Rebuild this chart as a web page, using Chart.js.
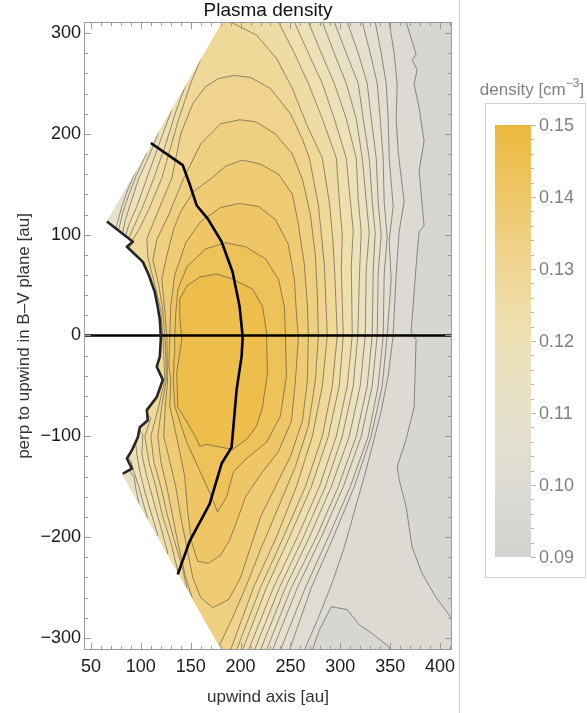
<!DOCTYPE html>
<html>
<head>
<meta charset="utf-8">
<script src="https://cdn.jsdelivr.net/npm/chart.js@4/dist/chart.umd.min.js"></script>
<style>
  html, body { margin: 0; padding: 0; background: #fff; }
</style>
</head>
<body>
<canvas id="c" width="587" height="713"></canvas>
<script>
// axis ranges and tick labels
const xRange = [43, 412];
const yRange = [-312, 311];
const xTicks = [50, 100, 150, 200, 250, 300, 350, 400];
const yTicks = [-300, -200, -100, 0, 100, 200, 300];
const densityTicks = [0.09, 0.10, 0.11, 0.12, 0.13, 0.14, 0.15];
const densityRange = [0.09, 0.15];

// edges of the simulated wedge [au]
const upperEdge = [[182, 311], [66, 113]];
const lowerEdge = [[81, -137], [181, -312]];
const shockLine = [[66,113],[92,93],[86,88],[102,73],[108,60],[114,43],[117,28],[119,16],[120,0],[120,-4],[119,-21],[116,-31],[122,-44],[116,-61],[106,-74],[107,-84],[99,-91],[97,-101],[91,-114],[86,-122],[91,-132],[82,-137]];
const heliopause = [[110,191],[142,169],[149,150],[156,129],[167,116],[181,93],[192,63],[199,29],[202,0],[202,-4],[201,-21],[196,-54],[191,-111],[181,-127],[169,-167],[149,-204],[137,-237]];
const axisLine = [[30, 0], [425, 0]];

// density contours (cm^-3), closed outlines in au; parts outside the wedge are cut away
const contour097 = [[366,330],[366,311],[376,279],[372,273],[377,264],[374,249],[379,226],[384,193],[379,163],[384,109],[379,103],[376,69],[371,3],[376,-4],[374,-71],[366,-103],[357,-130],[359,-143],[366,-170],[372,-210],[382,-236],[396,-260],[406,-273],[411,-280],[425,-288],[425,-330],[30,-330],[30,330]];
const lowPatch097 = [[266,-330],[272,-312],[279,-292],[291,-269],[307,-272],[319,-287],[331,-295],[349,-309],[353,-330]];
const contour100 = [[345,330],[349,311],[354,280],[357,249],[356,215],[358,182],[364,133],[359,103],[356,60],[353,0],[348,-40],[341,-75],[332,-110],[324,-140],[314,-175],[304,-210],[292,-245],[278,-280],[264,-312],[262,-330],[30,-330],[30,330]];
const contour103 = [[331,330],[335,311],[341,280],[346,250],[348,215],[349,176],[353,128],[349,95],[351,55],[347,0],[342,-50],[331,-100],[314,-150],[293,-200],[271,-250],[249,-312],[247,-330],[30,-330],[30,330]];
const contour106 = [[318,330],[322,311],[330,280],[337,250],[340,215],[343,176],[344,132],[347,98],[344,60],[343,0],[338,-50],[328,-100],[310,-150],[288,-200],[265,-250],[240,-312],[238,-330],[30,-330],[30,330]];
const contour109 = [[303,330],[307,311],[318,280],[327,250],[331,215],[336,176],[338,132],[341,100],[338,62],[337,0],[332,-50],[321,-100],[303,-150],[281,-200],[257,-250],[232,-312],[230,-330],[30,-330],[30,330]];
const contour112 = [[290,330],[294,311],[306,280],[318,250],[323,215],[329,176],[332,134],[335,101],[333,64],[332,0],[327,-50],[316,-100],[298,-150],[276,-200],[251,-250],[226,-312],[224,-330],[30,-330],[30,100],[74,103],[76,110],[81,128],[87,145],[95,163],[90,172],[90,330]];
const contour115 = [[278,330],[282,311],[294,280],[306,250],[316,215],[322,176],[326,134],[329,102],[326,66],[325,0],[320,-50],[309,-100],[291,-150],[269,-200],[245,-250],[220,-312],[218,-330],[150,-330],[88,-175],[98,-166],[95,-152],[93,-140],[86,-130],[30,-60],[30,95],[76,100],[78,106],[82,122],[88,140],[96,160],[106,181],[100,190],[100,330]];
const contour118 = [[264,330],[268,311],[281,280],[294,250],[306,215],[316,176],[318,134],[321,103],[319.5,68],[317.5,0],[313,-50],[302,-100],[285,-150],[263,-200],[239,-250],[214,-312],[212,-330],[150,-330],[95,-190],[107,-182],[102,-165],[98,-150],[93,-135],[90,-124],[84,-118],[30,-60],[30,95],[80,97],[82,102],[84,113],[90,132],[98,156],[109,180],[118,202],[113,212],[113,330]];
const contour121 = [[250,330],[254,311],[268,280],[282,250],[294,215],[306,176],[310,134],[313,104],[311,70],[312,0],[307,-50],[296,-100],[279,-150],[257,-200],[233,-250],[208,-312],[206,-330],[150,-330],[100,-205],[117,-198],[110,-175],[104,-155],[99,-135],[96,-118],[95,-108],[88,-105],[30,-60],[30,95],[82,96],[85,100],[88,110],[96,128],[106,156],[122,200],[131,224],[126,235],[126,330]];
const contour124 = [[234,330],[238,311],[254,280],[268,250],[282,215],[296,176],[299,134],[302,100],[301,66],[303,0],[299,-50],[288,-100],[271,-150],[249,-200],[226,-250],[202,-312],[200,-330],[150,-330],[110,-230],[127,-216],[120,-190],[113,-165],[106,-140],[101,-118],[102,-98],[95,-90],[30,-60],[30,90],[84,93],[88,97],[93,108],[102,128],[113,156],[125,190],[135,222],[145,249],[140,262],[140,330]];
const contour127 = [[185,330],[190,311],[216,298],[236,275],[252,245],[266,210],[282,176],[289,132],[292.5,96],[294.5,60],[297,0],[292,-50],[282,-100],[265,-150],[243,-200],[220,-250],[196,-312],[194,-330],[150,-330],[120,-250],[137,-233],[130,-205],[122,-180],[115,-150],[108,-125],[104,-100],[110,-82],[100,-72],[30,-50],[30,80],[88,85],[92,95],[98,105],[108,125],[121,156],[138,215],[150,250],[160,274],[155,290],[155,330]];
const contour130 = [[194,258],[210,256],[230,245],[250,220],[262,195],[269,176],[278,130],[284,70],[287,0],[282,-50],[272,-100],[256,-150],[236,-200],[213,-250],[190,-312],[188,-330],[135,-280],[146,-250],[142,-232],[134,-205],[127,-180],[120,-150],[113,-125],[110,-100],[118,-70],[124,-44],[123,-20],[122,0],[120,25],[114,50],[107,78],[106,96],[118,125],[131,156],[140,200],[152,230],[165,247],[178,255],[194,258]];
const contour133 = [[199,214],[215,212],[235,200],[252,180],[262,155],[270,120],[275,80],[277,40],[278,0],[275,-45],[268,-90],[255,-130],[238,-170],[221,-210],[205,-250],[192,-280],[180,-305],[172,-325],[158,-300],[152,-262],[145,-240],[138,-210],[132,-180],[126,-150],[120,-125],[117,-100],[121,-70],[125.5,-44],[125,-20],[124,0],[122,25],[118,50],[112,75],[116,95],[128,120],[143,156],[160,190],[180,210],[199,214]];
const contour136 = [[202,174],[220,170],[238,160],[252,140],[258,110],[264,70],[267,30],[268,0],[267,-45],[262,-85],[250,-120],[235,-150],[220,-180],[210,-210],[200,-240],[188,-262],[172,-270],[160,-260],[152,-240],[146,-210],[140,-180],[135,-150],[129,-125],[123,-100],[124.5,-70],[127,-44],[126.5,-25],[126,0],[124,25],[121,56],[126,79],[133,106],[140,123],[153,143],[171,156],[185,168],[202,174]];
const contour139 = [[130,30],[134,60],[145,92],[160,113],[180,127],[199,131],[218,128],[235,115],[248,90],[254,55],[256,22],[258,-2],[255,-45],[251,-85],[238,-115],[220,-138],[205,-160],[196,-185],[189,-203],[180,-218],[168,-226],[157,-224],[151,-205],[147,-175],[144,-140],[137,-106],[129,-70],[130,-44],[128,-30],[129,0],[130,30]];
const contour142 = [[137,45],[146,68],[165,86],[185,92],[205,88],[225,76],[238,56],[244,28],[245,0],[246,-40],[240,-80],[226,-106],[206,-122],[193,-135],[186,-160],[177,-175],[170,-158],[158,-132],[146,-106],[134,-70],[132.5,-44],[133.5,-20],[134,0],[135,22],[137,45]];
const contour145 = [[139,36],[146,49],[159,58],[176,61],[192,56],[212,46],[222,29],[226,3],[227,-37],[222,-71],[216,-90],[206,-103],[192,-113],[176,-110],[166,-108],[159,-110],[156,-103],[147,-87],[137,-71],[136,-37],[141,-4],[139,20],[139,36]];

const contourLevels = [0.097, 0.100, 0.103, 0.106, 0.109, 0.112, 0.115, 0.118, 0.121, 0.124, 0.127, 0.130, 0.133, 0.136, 0.139, 0.142, 0.145];
const contourPaths = [contour097, contour100, contour103, contour106, contour109, contour112, contour115, contour118, contour121, contour124, contour127, contour130, contour133, contour136, contour139, contour142, contour145];

// colour scale (light grey -> gold)
const cmapStops = [
  [0.090, [211, 210, 208]],
  [0.100, [221, 219, 212]],
  [0.110, [231, 225, 203]],
  [0.120, [238, 225, 183]],
  [0.130, [240, 214, 148]],
  [0.140, [238, 199, 104]],
  [0.150, [236, 185, 60]]
];
function densityColor(v) {
  if (v <= cmapStops[0][0]) return 'rgb(' + cmapStops[0][1].join(',') + ')';
  for (let i = 1; i < cmapStops.length; i++) {
    if (v <= cmapStops[i][0]) {
      const [a, ca] = cmapStops[i - 1], [b, cb] = cmapStops[i];
      const t = (v - a) / (b - a);
      return 'rgb(' + ca.map((c, k) => Math.round(c + (cb[k] - c) * t)).join(',') + ')';
    }
  }
  return 'rgb(' + cmapStops[cmapStops.length - 1][1].join(',') + ')';
}

const toXY = pts => pts.map(p => ({x: p[0], y: p[1]}));
const domainOutline = [upperEdge[0], [xRange[1], yRange[1]], [xRange[1], yRange[0]], lowerEdge[1], lowerEdge[0], ...shockLine.slice().reverse(), upperEdge[1]];

const lineGrey = 'rgba(55,55,55,0.75)';
const drawList = [{pts: domainOutline, fill: densityColor(0.0945), width: 0}];
contourPaths.forEach((path, i) => {
  drawList.push({pts: path, fill: densityColor(contourLevels[i] + 0.0015), width: 0.7});
  if (i === 0) drawList.push({pts: lowPatch097, fill: densityColor(0.0945), width: 0.7});
});

const datasets = [
  {data: toXY(heliopause), borderColor: '#000', borderWidth: 2.6},
  {data: toXY(shockLine), borderColor: '#262626', borderWidth: 2.6},
  {data: toXY(axisLine), borderColor: '#000', borderWidth: 2.6}
].map(d => Object.assign(d, {showLine: true, fill: false, pointRadius: 0, borderJoinStyle: 'round'}));
const firstContour = datasets.length;
drawList.slice().reverse().forEach(d => {
  datasets.push({
    data: toXY(d.pts), showLine: true, fill: 'shape',
    backgroundColor: d.fill, borderColor: lineGrey, borderWidth: d.width,
    pointRadius: 0, borderJoinStyle: 'round'
  });
});

function tracePolygon(chart, pts) {
  const {ctx} = chart, xs = chart.scales.x, ys = chart.scales.y;
  ctx.beginPath();
  pts.forEach((p, i) => {
    const a = xs.getPixelForValue(p[0]), b = ys.getPixelForValue(p[1]);
    if (i) ctx.lineTo(a, b); else ctx.moveTo(a, b);
  });
  ctx.closePath();
}

const wedgeClip = {
  id: 'wedgeClip',
  beforeDatasetsDraw(chart) {
    chart.ctx.save();
    tracePolygon(chart, domainOutline);
    chart.ctx.clip();
  },
  afterDatasetDraw(chart, args) {
    if (args.index === firstContour) chart.ctx.restore();
  }
};

const FONT = "'Liberation Sans', Arial, sans-serif";

const decorations = {
  id: 'decorations',
  afterDraw(chart) {
    const {ctx, chartArea: ca} = chart;
    const xs = chart.scales.x, ys = chart.scales.y;
    ctx.save();
    // frame with inward ticks
    ctx.strokeStyle = '#9a9a9a';
    ctx.lineWidth = 1;
    ctx.strokeRect(ca.left + 0.5, ca.top + 0.5, ca.width - 1, ca.height - 1);
    ctx.beginPath();
    for (let v = 50; v <= 410; v += 10) {
      const p = Math.round(xs.getPixelForValue(v)) + 0.5;
      const len = v % 50 === 0 ? 7 : 4;
      ctx.moveTo(p, ca.bottom); ctx.lineTo(p, ca.bottom - len);
      ctx.moveTo(p, ca.top); ctx.lineTo(p, ca.top + len);
    }
    for (let v = -300; v <= 300; v += 20) {
      const p = Math.round(ys.getPixelForValue(v)) + 0.5;
      const len = v % 100 === 0 ? 7 : 4;
      ctx.moveTo(ca.left, p); ctx.lineTo(ca.left + len, p);
      ctx.moveTo(ca.right, p); ctx.lineTo(ca.right - len, p);
    }
    ctx.stroke();

    // title
    ctx.fillStyle = '#111';
    ctx.font = '19px ' + FONT;
    ctx.textAlign = 'center';
    ctx.textBaseline = 'middle';
    ctx.fillText('Plasma density', (ca.left + ca.right) / 2, 11);

    // separator
    ctx.strokeStyle = '#cfcfcf';
    ctx.beginPath(); ctx.moveTo(459.5, 0); ctx.lineTo(459.5, 713); ctx.stroke();

    // colour bar legend
    const gx = 495, gw = 36, gTop = 125, gBot = 557;
    const valY = v => gBot - (v - densityRange[0]) / (densityRange[1] - densityRange[0]) * (gBot - gTop);
    ctx.strokeStyle = '#d2d2d2';
    ctx.strokeRect(485.5, 103.5, 100, 474);
    const grad = ctx.createLinearGradient(0, gBot, 0, gTop);
    cmapStops.forEach(([v, c]) => grad.addColorStop((v - densityRange[0]) / (densityRange[1] - densityRange[0]), 'rgb(' + c.join(',') + ')'));
    ctx.fillStyle = grad;
    ctx.fillRect(gx, gTop, gw, gBot - gTop);
    ctx.strokeStyle = '#b5b5b5';
    ctx.beginPath();
    for (let k = 0; k <= 30; k++) {
      const v = densityRange[0] + k * 0.002;
      const y = Math.round(valY(v)) + 0.5;
      ctx.moveTo(gx + gw, y); ctx.lineTo(gx + gw + (k % 5 === 0 ? 5 : 3), y);
    }
    ctx.stroke();
    ctx.fillStyle = '#808080';
    ctx.font = '18px ' + FONT;
    ctx.textAlign = 'left';
    densityTicks.forEach(v => ctx.fillText(v.toFixed(2), 539, valY(v) + 1));
    // legend title with superscript
    ctx.font = '17px ' + FONT;
    const t1 = 'density [cm', sup = '\u22123', t2 = ']';
    const w1 = ctx.measureText(t1).width;
    ctx.font = '12px ' + FONT;
    const ws = ctx.measureText(sup).width;
    ctx.font = '17px ' + FONT;
    const w2 = ctx.measureText(t2).width;
    let sx = 532 - (w1 + ws + w2) / 2;
    ctx.fillText(t1, sx, 90);
    ctx.font = '12px ' + FONT;
    ctx.fillText(sup, sx + w1, 84);
    ctx.font = '17px ' + FONT;
    ctx.fillText(t2, sx + w1 + ws, 90);
    ctx.restore();
  }
};

const minus = v => v < 0 ? '\u2212' + Math.abs(v) : String(v);

new Chart(document.getElementById('c'), {
  type: 'scatter',
  data: {datasets},
  options: {
    responsive: false,
    animation: false,
    devicePixelRatio: 1,
    events: [],
    layout: {padding: {left: 0, top: 22, right: 135, bottom: 0}},
    plugins: {legend: {display: false}, tooltip: {enabled: false}, title: {display: false}},
    elements: {point: {radius: 0}, line: {tension: 0}},
    scales: {
      x: {
        type: 'linear', min: xRange[0], max: xRange[1],
        grid: {display: false, drawTicks: false}, border: {display: false},
        afterBuildTicks: s => { s.ticks = xTicks.map(v => ({value: v})); },
        afterFit: s => { s.height = 63; },
        ticks: {autoSkip: false, maxRotation: 0, padding: 6, color: '#1a1a1a', font: {size: 18, family: FONT}, callback: v => minus(v)},
        title: {display: true, text: 'upwind axis [au]', color: '#333', font: {size: 17, family: FONT}, padding: {top: 0, bottom: 5}}
      },
      y: {
        type: 'linear', min: yRange[0], max: yRange[1],
        grid: {display: false, drawTicks: false}, border: {display: false},
        afterBuildTicks: s => { s.ticks = yTicks.map(v => ({value: v})); },
        afterFit: s => { s.width = 84; },
        ticks: {autoSkip: false, padding: 3, color: '#1a1a1a', font: {size: 18, family: FONT}, callback: v => minus(v)},
        title: {display: true, text: 'perp to upwind in B\u2013V plane [au]', color: '#333', font: {size: 17, family: FONT}, padding: {top: 14, bottom: 0}}
      }
    }
  },
  plugins: [wedgeClip, decorations]
});
</script>
</body>
</html>
